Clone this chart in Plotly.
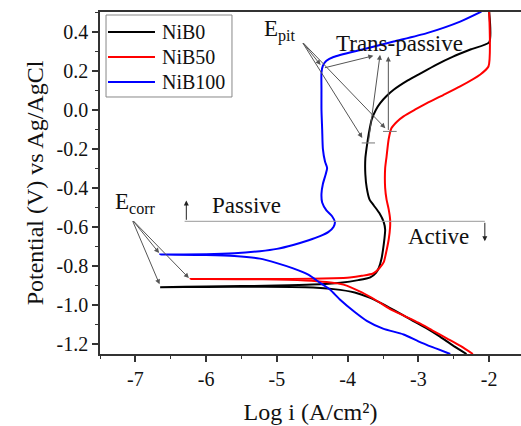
import plotly.graph_objects as go

# Potentiodynamic polarization curves: log current density vs potential
nib0_logi = [-2.32, -2.5, -2.7, -2.9, -3.1, -3.3, -3.5, -3.7, -3.9, -4.2, -4.6, -5.2, -6.0, -6.65,
             -6.0, -5.0, -4.5, -4.1, -3.85, -3.68, -3.6, -3.56, -3.52, -3.5, -3.48, -3.47, -3.49,
             -3.55, -3.63, -3.69, -3.73, -3.75, -3.75, -3.73, -3.70, -3.66, -3.6, -3.54, -3.45,
             -3.35, -3.15, -3.0, -2.75, -2.51, -2.25, -2.0, -2.0]
nib0_v = [-1.25, -1.21, -1.16, -1.115, -1.075, -1.035, -0.995, -0.96, -0.935, -0.918, -0.908, -0.906, -0.907, -0.908,
          -0.905, -0.9, -0.895, -0.885, -0.872, -0.858, -0.835, -0.81, -0.76, -0.716, -0.66, -0.614, -0.575,
          -0.53, -0.49, -0.46, -0.40, -0.33, -0.25, -0.19, -0.12, -0.05, 0.0, 0.034, 0.07,
          0.102, 0.15, 0.18, 0.23, 0.272, 0.31, 0.345, 0.5]

nib50_logi = [-2.23, -2.4, -2.6, -2.8, -3.0, -3.2, -3.4, -3.6, -3.8, -4.06, -4.3, -4.6, -5.2, -6.22,
              -5.5, -4.8, -4.2, -3.97, -3.8, -3.64, -3.55, -3.49, -3.45, -3.42, -3.40, -3.40, -3.42,
              -3.45, -3.47, -3.47, -3.45, -3.42, -3.38, -3.3, -3.21, -3.05, -2.88, -2.65, -2.41,
              -2.13, -2.01, -2.0]
nib50_v = [-1.25, -1.21, -1.17, -1.13, -1.09, -1.055, -1.02, -0.975, -0.935, -0.895, -0.882, -0.874, -0.868, -0.866,
           -0.866, -0.866, -0.862, -0.858, -0.85, -0.838, -0.81, -0.78, -0.72, -0.664, -0.60, -0.56, -0.51,
           -0.46, -0.40, -0.30, -0.24, -0.15, -0.094, -0.06, -0.034, 0.0, 0.034, 0.075, 0.119,
           0.179, 0.221, 0.5]

nib100_logi = [-2.55, -2.8, -3.0, -3.21, -3.5, -3.73, -3.9, -4.11, -4.25, -4.39, -4.55, -4.77, -5.0, -5.24,
               -5.6, -6.0, -6.65, -6.0, -5.6, -5.24, -5.0, -4.77, -4.55, -4.39, -4.27, -4.2, -4.18,
               -4.22, -4.30, -4.36, -4.37, -4.35, -4.31, -4.29, -4.32, -4.35, -4.36, -4.37, -4.37,
               -4.37, -4.35, -4.30, -4.2, -3.82, -3.35, -2.88, -2.41, -2.11]
nib100_v = [-1.25, -1.215, -1.185, -1.15, -1.12, -1.08, -1.035, -0.971, -0.92, -0.886, -0.845, -0.812, -0.785, -0.762,
            -0.748, -0.743, -0.741, -0.74, -0.735, -0.724, -0.712, -0.692, -0.668, -0.647, -0.625, -0.60, -0.575,
            -0.545, -0.515, -0.475, -0.43, -0.38, -0.33, -0.298, -0.265, -0.2, -0.1, 0.0, 0.1,
            0.19, 0.225, 0.25, 0.27, 0.306, 0.349, 0.392, 0.451, 0.502]

series_names = ["NiB0", "NiB50", "NiB100"]
series_colors = ["#000000", "#ff0000", "#0000ff"]
series_x = [nib0_logi, nib50_logi, nib100_logi]
series_y = [nib0_v, nib50_v, nib100_v]

# Marked points: corrosion potentials and pitting potentials
ecorr_logi = [-6.647, -6.224, -6.647]
ecorr_v = [-0.741, -0.869, -0.903]
epit_logi = [-4.365, -3.778, -3.448]
epit_v = [0.221, -0.153, -0.102]
passive_active_v = -0.571

FONT = "Liberation Serif, Times New Roman, Times, serif"
fig = go.Figure()
for name, xs, ys, col in zip(series_names, series_x, series_y, series_colors):
    fig.add_trace(go.Scatter(x=xs, y=ys, mode="lines", name=name, showlegend=False,
                             line=dict(color=col, width=2, shape="spline", smoothing=0.6)))

ARROW = "#555555"
ann = []
# E_corr label and arrows
ann.append(dict(x=-7.31, y=-0.475, text="E<sub>corr</sub>", showarrow=False, xanchor="left",
                yanchor="middle", font=dict(size=23, family=FONT, color="#111")))
for xh, yh in zip(ecorr_logi, ecorr_v):
    ann.append(dict(x=xh, y=yh, ax=-7.047, ay=-0.562, axref="x", ayref="y", text="",
                    showarrow=True, arrowhead=2, arrowsize=1, arrowwidth=1, arrowcolor=ARROW,
                    standoff=2))
# E_pit label and arrows
ann.append(dict(x=-5.21, y=0.405, text="E<sub>pit</sub>", showarrow=False, xanchor="left",
                yanchor="middle", font=dict(size=23, family=FONT, color="#111")))
for xh, yh in zip(epit_logi, epit_v):
    ann.append(dict(x=xh, y=yh, ax=-4.647, ay=0.349, axref="x", ayref="y", text="",
                    showarrow=True, arrowhead=2, arrowsize=1, arrowwidth=1, arrowcolor=ARROW,
                    standoff=2))
# Trans-passive label and arrows from the pitting points
ann.append(dict(x=-3.27, y=0.34, text="Trans-passive", showarrow=False, xanchor="center",
                yanchor="middle", font=dict(size=23, family=FONT, color="#111")))
for (x0, y0), (x1, y1) in zip([(-4.343, 0.213), (-3.708, -0.170), (-3.425, -0.111)],
                              [(-3.637, 0.276), (-3.542, 0.281), (-3.425, 0.272)]):
    ann.append(dict(x=x1, y=y1, ax=x0, ay=y0, axref="x", ayref="y", text="",
                    showarrow=True, arrowhead=2, arrowsize=1, arrowwidth=1, arrowcolor=ARROW))
# Passive / Active divider
ann.append(dict(x=-6.28, y=-0.465, ax=-6.28, ay=passive_active_v, axref="x", ayref="y", text="",
                showarrow=True, arrowhead=2, arrowsize=1, arrowwidth=1, arrowcolor="#222"))
ann.append(dict(x=-2.061, y=-0.673, ax=-2.061, ay=passive_active_v, axref="x", ayref="y", text="",
                showarrow=True, arrowhead=2, arrowsize=1, arrowwidth=1, arrowcolor="#222"))
ann.append(dict(x=-5.43, y=-0.49, text="Passive", showarrow=False, xanchor="center",
                yanchor="middle", font=dict(size=23, family=FONT, color="#111")))
ann.append(dict(x=-2.72, y=-0.648, text="Active", showarrow=False, xanchor="center",
                yanchor="middle", font=dict(size=23, family=FONT, color="#111")))

shapes = [
    dict(type="line", x0=-6.304, x1=-2.061, y0=passive_active_v, y1=passive_active_v,
         line=dict(color="#999999", width=1)),
    dict(type="line", x0=-3.801, x1=-3.613, y0=-0.170, y1=-0.170, line=dict(color="#777", width=1)),
    dict(type="line", x0=-3.500, x1=-3.307, y0=-0.111, y1=-0.111, line=dict(color="#777", width=1)),
]

# Legend box in the upper-left corner of the plot area
shapes.append(dict(type="rect", xref="paper", yref="paper", x0=0.0143, x1=0.3135,
                   y0=0.7515, y1=0.9912, line=dict(color="#888", width=1), fillcolor="white",
                   layer="above"))
for i, (name, col) in enumerate(zip(series_names, series_colors)):
    yy = 0.9415 - i * 0.0731
    shapes.append(dict(type="line", xref="paper", yref="paper", x0=0.019, x1=0.1306,
                       y0=yy, y1=yy, line=dict(color=col, width=2), layer="above"))
    ann.append(dict(xref="paper", yref="paper", x=0.1425, y=yy, text=name, showarrow=False,
                    xanchor="left", yanchor="middle", font=dict(size=20, family=FONT, color="#111")))

fig.update_layout(
    width=521, height=426,
    margin=dict(l=100, r=0, t=12, b=72),
    paper_bgcolor="white", plot_bgcolor="white",
    font=dict(family=FONT, size=20, color="#111"),
    annotations=ann, shapes=shapes, showlegend=False,
    xaxis=dict(range=[-7.5, -1.55], tickmode="array", tickvals=[-7, -6, -5, -4, -3, -2],
               ticktext=["-7", "-6", "-5", "-4", "-3", "-2"],
               showline=True, linecolor="#333", linewidth=1.5, mirror=True,
               ticks="outside", ticklen=6, tickwidth=1.5, tickcolor="#333",
               minor=dict(ticks="outside", dtick=0.5, ticklen=3, tickcolor="#333", tickwidth=1.2),
               showgrid=False, zeroline=False,
               title=dict(text="Log i (A/cm²)", font=dict(size=24, family=FONT), standoff=14),
               tickfont=dict(size=20, family=FONT)),
    yaxis=dict(range=[-1.25, 0.5], tickmode="array",
               tickvals=[-1.2, -1.0, -0.8, -0.6, -0.4, -0.2, 0.0, 0.2, 0.4],
               ticktext=["-1.2", "-1.0", "-0.8", "-0.6", "-0.4", "-0.2", "0.0", "0.2", "0.4"],
               showline=True, linecolor="#333", linewidth=1.5, mirror=False,
               ticks="outside", ticklen=6, tickwidth=1.5, tickcolor="#333",
               minor=dict(ticks="outside", dtick=0.1, ticklen=3, tickcolor="#333", tickwidth=1.2),
               showgrid=False, zeroline=False,
               title=dict(text="Potential (V) vs Ag/AgCl", font=dict(size=24, family=FONT), standoff=6),
               tickfont=dict(size=20, family=FONT)),
)

fig.write_html("out.html")
